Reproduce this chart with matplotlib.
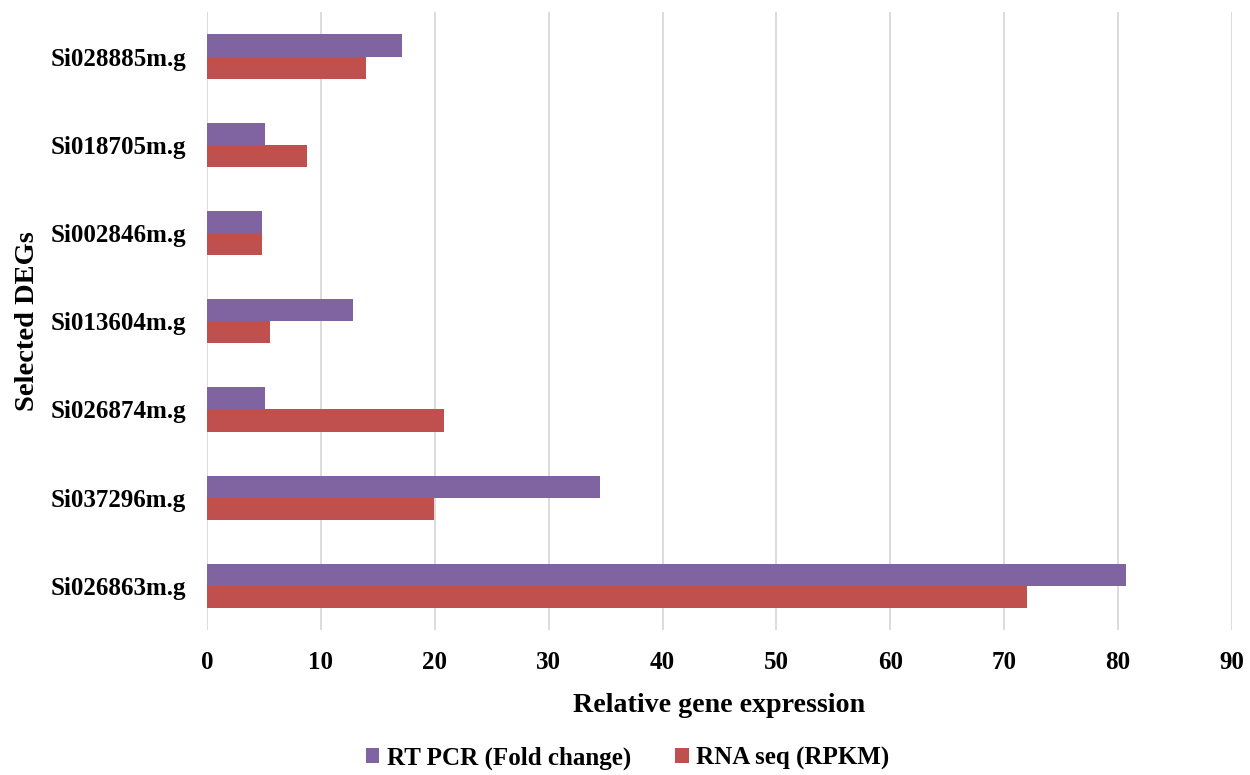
import numpy as np
import matplotlib.pyplot as plt

genes = ["Si028885m.g", "Si018705m.g", "Si002846m.g", "Si013604m.g",
         "Si026874m.g", "Si037296m.g", "Si026863m.g"]
rt_pcr = [17.1, 5.1, 4.8, 12.8, 5.1, 34.5, 80.7]
rna_seq = [14.0, 8.8, 4.8, 5.5, 20.8, 19.9, 72.0]
xticks = list(range(0, 100, 10))

plt.rcParams['font.family'] = ['Liberation Serif', 'DejaVu Serif']
plt.rcParams['font.weight'] = 'bold'

fig = plt.figure(figsize=(12.5, 7.75), dpi=100)
ax = fig.add_axes([0.1656, 0.187, 0.82, 0.797])

y = np.arange(len(genes))[::-1]
h = 0.25
ax.barh(y + h / 2, rt_pcr, height=h, color='#8064A2', label='RT PCR (Fold change)')
ax.barh(y - h / 2, rna_seq, height=h, color='#C0504D', label='RNA seq (RPKM)')

ax.set_xlim(0, 90)
ax.set_ylim(-0.5, len(genes) - 0.5)
ax.set_xticks(xticks)
ax.set_yticks(y)
ax.set_yticklabels(genes, fontsize=18, fontweight='bold')
ax.tick_params(axis='x', labelsize=18, length=0, pad=15)
ax.tick_params(axis='y', length=0, pad=15)
ax.grid(axis='x', color='#D9D9D9', linewidth=1.3)
ax.set_axisbelow(True)
for s in ax.spines.values():
    s.set_visible(False)

ax.set_xlabel('Relative gene expression', fontsize=20.2, fontweight='bold')
ax.xaxis.set_label_coords(0.5, -0.102)
ax.set_ylabel('Selected DEGs', fontsize=20.5, fontweight='bold')
ax.yaxis.set_label_coords(-0.175, 0.5)
ax.yaxis.label.set_va('center')

fig.legend(loc='center', bbox_to_anchor=(0.502, 0.022), ncol=2, frameon=False,
           fontsize=18, handlelength=0.55, handleheight=0.55, handletextpad=0.3,
           columnspacing=1.75)

fig.savefig('out.png', dpi=100)
